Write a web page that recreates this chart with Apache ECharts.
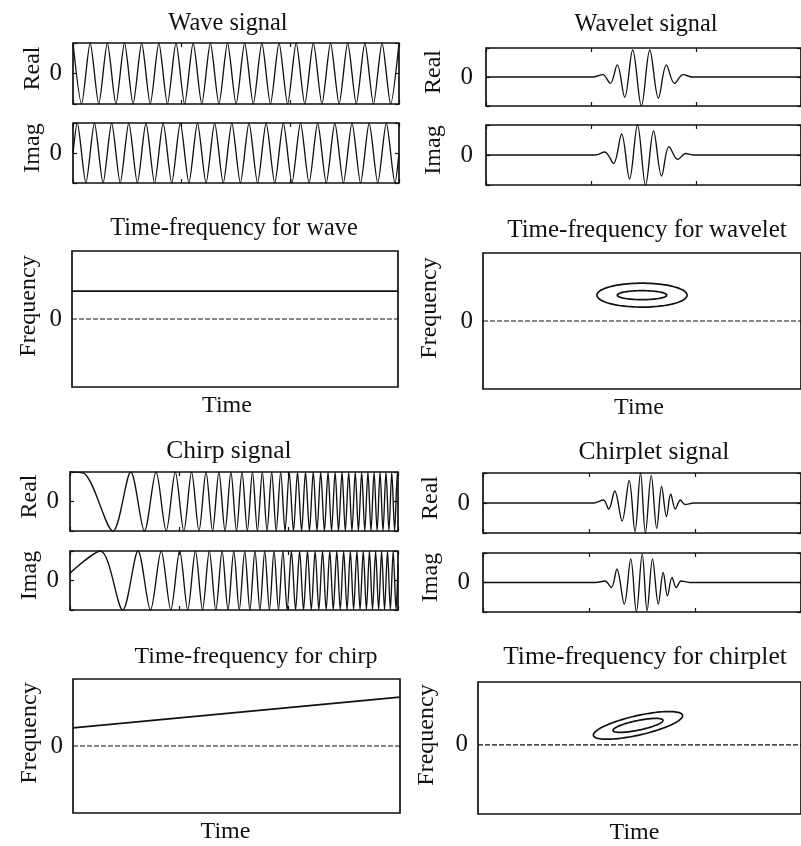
<!DOCTYPE html>
<html><head><meta charset="utf-8">
<script src="https://cdn.jsdelivr.net/npm/echarts@6/dist/echarts.min.js"></script>
<style>html,body{margin:0;padding:0;background:#fff}#c{width:801px;height:846px}</style>
</head><body><div id="c"></div>
<script>
// ---------- DATA (time axis 0..300, amplitude -1..1, frequency about -1..1) ----------
const timeTicks = [0, 100, 200, 300];

// Wave signal: extrema of the real / imaginary parts
const waveReT = [0,7.9,15.8,23.7,31.6,39.5,47.4,55.3,63.2,71.1,79,86.9,94.8,102.7,110.6,118.5,126.4,134.3,142.2,150.1,158,165.9,173.8,181.7,189.6,197.5,205.4,213.3,221.2,229.1,237,244.9,252.8,260.7,268.6,276.5,284.4,292.3,300];
const waveReV = [1,-1,1,-1,1,-1,1,-1,1,-1,1,-1,1,-1,1,-1,1,-1,1,-1,1,-1,1,-1,1,-1,1,-1,1,-1,1,-1,1,-1,1,-1,1,-1,1];
const waveImT = [0,3.95,11.85,19.75,27.65,35.55,43.45,51.35,59.25,67.15,75.05,82.95,90.85,98.75,106.65,114.55,122.45,130.35,138.25,146.15,154.05,161.95,169.85,177.75,185.65,193.55,201.45,209.35,217.25,225.15,233.05,240.95,248.85,256.75,264.65,272.55,280.45,288.35,296.25,300];
const waveImV = [0,1,-1,1,-1,1,-1,1,-1,1,-1,1,-1,1,-1,1,-1,1,-1,1,-1,1,-1,1,-1,1,-1,1,-1,1,-1,1,-1,1,-1,1,-1,1,-1,0];

// Wavelet signal
const waveletReT = [0,101.5,111.3,118.3,125.0,132.1,139.7,148.0,156.0,164.2,171.8,179.5,187.8,196.5,300];
const waveletReV = [0,0,0.08,-0.22,0.42,-0.7,0.93,-1,0.93,-0.73,0.42,-0.22,0.08,0,0];
const waveletImT = [0,104,113.1,121.4,129.1,136.7,144.3,152.0,159.6,167.2,174.3,182.6,190.2,197,300];
const waveletImV = [0,0,0.1,-0.28,0.7,-0.8,1,-1,0.8,-0.7,0.28,-0.15,0.05,0,0];

// Chirp signal: extrema positions (plus early shape points)
const chirpReT = [0,13,39.3,55.6,68.1,78.7,88.0,96.3,104.1,111.2,118.0,124.4,130.4,136.2,141.8,147.2,152.3,157.3,162.2,166.9,171.4,175.9,180.2,184.5,188.6,192.7,196.7,200.5,204.4,208.1,211.8,215.4,219.0,222.5,225.9,229.3,232.7,236.0,239.2,242.5,245.6,248.8,251.8,254.9,257.9,260.9,263.8,266.8,269.6,272.5,275.3,278.1,280.9,283.6,286.3,289.0,291.7,294.3,296.9,299.5,300];
const chirpReV = [1,0.95,-1,1,-1,1,-1,1,-1,1,-1,1,-1,1,-1,1,-1,1,-1,1,-1,1,-1,1,-1,1,-1,1,-1,1,-1,1,-1,1,-1,1,-1,1,-1,1,-1,1,-1,1,-1,1,-1,1,-1,1,-1,1,-1,1,-1,1,-1,1,-1,1,0.84];
const chirpImT = [0,27.8,48.2,62.2,73.6,83.4,92.2,100.3,107.7,114.7,121.2,127.4,133.4,139.1,144.5,149.8,154.8,159.8,164.5,169.2,173.7,178.1,182.4,186.6,190.7,194.7,198.6,202.5,206.3,210.0,213.6,217.2,220.7,224.2,227.6,231.0,234.3,237.6,240.8,244.0,247.2,250.3,253.4,256.4,259.4,262.4,265.3,268.2,271.1,273.9,276.7,279.5,282.3,285.0,287.7,290.4,293.0,295.6,298.2,300];
const chirpImV = [0.25,1,-1,1,-1,1,-1,1,-1,1,-1,1,-1,1,-1,1,-1,1,-1,1,-1,1,-1,1,-1,1,-1,1,-1,1,-1,1,-1,1,-1,1,-1,1,-1,1,-1,1,-1,1,-1,1,-1,1,-1,1,-1,1,-1,1,-1,1,-1,1,-1,0.54];

// Chirplet signal
const chirpletReT = [0,104.3,113.5,118.6,124.3,131.2,137.9,143.4,148.6,153.2,158.7,163.9,168.5,173.1,177.1,181.4,186.2,190.5,199,300];
const chirpletReV = [0,0,0.1,-0.2,0.4,-0.6,0.75,-0.95,1,-1,0.92,-0.85,0.55,-0.45,0.3,-0.2,0.1,-0.05,0,0];
const chirpletImT = [0,106,115.0,121.1,126.3,133.3,139.4,144.7,150.2,154.8,159.9,165.4,170.0,174.0,178.3,182.3,186.9,195,300];
const chirpletImV = [0,0,0.05,-0.17,0.45,-0.73,0.8,-1,0.96,-0.96,0.8,-0.73,0.34,-0.45,0.17,-0.17,0.05,0,0];

// Time-frequency ridges: [time, frequency]
const tfWaveLine = [[0, 0.41], [300, 0.41]];
const tfChirpLine = [[0, 0.27], [300, 0.73]];
const zeroLine = [[0, 0], [300, 0]];
// Ellipse contours: [centre time, centre freq, time half-width, freq half-height, chirp slope (freq per time)]
const tfWaveletEllipses = [[150, 0.38, 42.5, 0.176, 0], [150, 0.38, 23.3, 0.066, 0]];
const tfChirpletEllipses = [[148.6, 0.31, 41.4, 0.158, 0.0037], [148.6, 0.31, 23.2, 0.078, 0.0034]];

// ---------- CHART ----------
const FONT = "'Liberation Serif','Times New Roman',serif";
const INK = '#111';
const grid = [], xAxis = [], yAxis = [], series = [], graphic = [];
const zip = (t, v) => t.map((x, i) => [x, v[i]]);

function addGrid(box) {
  grid.push({left: box[0], top: box[1], width: box[2], height: box[3], show: true,
    borderColor: INK, borderWidth: 1.7, backgroundColor: 'transparent'});
  return grid.length - 1;
}
function tickStyle(show) {
  return {show: show, inside: true, length: 4, lineStyle: {color: INK, width: 1.2}};
}
function signalPanel(box, name, nameGap, labelMargin, t, v, smooth) {
  const gi = addGrid(box);
  const xi = xAxis.length;
  ['bottom', 'top'].forEach(p => xAxis.push({type: 'value', gridIndex: gi, position: p, min: 0, max: 300, interval: 100,
    axisLine: {show: false, onZero: false}, axisTick: tickStyle(true), axisLabel: {show: false}, splitLine: {show: false}}));
  const yi = yAxis.length;
  yAxis.push({type: 'value', gridIndex: gi, position: 'left', min: -1, max: 1, interval: 1,
    axisLine: {show: false, onZero: false}, axisTick: tickStyle(true), splitLine: {show: false},
    axisLabel: {margin: labelMargin, fontFamily: FONT, fontSize: 25, color: INK, formatter: x => x === 0 ? '0' : ''},
    name: name, nameLocation: 'middle', nameRotate: 90, nameGap: nameGap,
    nameTextStyle: {fontFamily: FONT, fontSize: 24, color: INK, padding: [0, 0, 0, 10]}});
  yAxis.push({type: 'value', gridIndex: gi, position: 'right', min: -1, max: 1, interval: 1,
    axisLine: {show: false, onZero: false}, axisTick: tickStyle(true), splitLine: {show: false}, axisLabel: {show: false}});
  series.push({type: 'line', xAxisIndex: xi, yAxisIndex: yi, data: zip(t, v), smooth: smooth,
    symbol: 'none', lineStyle: {color: INK, width: 1.35}, animation: false, silent: true});
}
function tfPanel(box, yMin, nameGap, timeShift) {
  const gi = addGrid(box);
  const xi = xAxis.length;
  xAxis.push({type: 'value', gridIndex: gi, position: 'bottom', min: 0, max: 300, interval: 100,
    axisLine: {show: false, onZero: false}, axisTick: {show: false}, axisLabel: {show: false}, splitLine: {show: false},
    name: 'Time', nameLocation: 'middle', nameGap: 7,
    nameTextStyle: {fontFamily: FONT, fontSize: 24, color: INK, verticalAlign: 'top', padding: [0, 2 * timeShift, 0, 0]}});
  const yi = yAxis.length;
  yAxis.push({type: 'value', gridIndex: gi, position: 'left', min: yMin, max: 1,
    axisLine: {show: false, onZero: false}, axisTick: {show: false}, splitLine: {show: false},
    axisLabel: {margin: 10, fontFamily: FONT, fontSize: 25, color: INK, customValues: [0], formatter: x => x === 0 ? '0' : ''},
    name: 'Frequency', nameLocation: 'middle', nameRotate: 90, nameGap: nameGap,
    nameTextStyle: {fontFamily: FONT, fontSize: 24, color: INK, padding: [0, 0, 0, 26]}});
  series.push({type: 'line', xAxisIndex: xi, yAxisIndex: yi, data: zeroLine, symbol: 'none',
    lineStyle: {color: INK, width: 1.1, type: [5, 2]}, animation: false, silent: true});
  return [xi, yi];
}
function ridge(ax, data) {
  series.push({type: 'line', xAxisIndex: ax[0], yAxisIndex: ax[1], data: data, symbol: 'none',
    lineStyle: {color: INK, width: 1.6}, animation: false, silent: true});
}
// contour of a (possibly sheared) ellipse, projected through the axes of its grid
function ellipses(ax, data) {
  series.push({type: 'custom', xAxisIndex: ax[0], yAxisIndex: ax[1], data: data, animation: false, silent: true,
    renderItem: (params, api) => {
      const t0 = api.value(0), f0 = api.value(1), a = api.value(2), b = api.value(3), c = api.value(4);
      const pts = [];
      for (let i = 0; i < 96; i++) {
        const s = i / 96 * 2 * Math.PI;
        const dt = a * Math.cos(s);
        pts.push(api.coord([t0 + dt, f0 + c * dt + b * Math.sin(s)]));
      }
      return {type: 'polygon', shape: {points: pts}, style: {fill: 'none', stroke: INK, lineWidth: 1.7}};
    }});
}
function title(text, x, y, size) {
  graphic.push({type: 'text', x: x, y: y, silent: true,
    style: {text: text, fontFamily: FONT, fontSize: size, fill: INK, align: 'center', verticalAlign: 'middle'}});
}

// left column
signalPanel([73, 43, 326, 61], 'Real', 28, 11, waveReT, waveReV, 0.25);
signalPanel([73, 123, 326, 60], 'Imag', 28, 11, waveImT, waveImV, 0.25);
const tfW = tfPanel([72, 251, 326, 136], -1, 31, 8);
ridge(tfW, tfWaveLine);
signalPanel([70, 472, 328, 59], 'Real', 28, 11, chirpReT, chirpReV, 0.3);
signalPanel([70, 551, 328, 59], 'Imag', 28, 11, chirpImT, chirpImV, 0.3);
const tfC = tfPanel([73, 679, 327, 134], -1, 31, 11);
ridge(tfC, tfChirpLine);
// right column (extends past the right edge)
signalPanel([486, 48, 327, 58], 'Real', 40, 13, waveletReT, waveletReV, 0.35);
signalPanel([486, 125, 327, 60], 'Imag', 40, 13, waveletImT, waveletImV, 0.35);
const tfWl = tfPanel([483, 253, 328, 136], -1, 41, 3);
ellipses(tfWl, tfWaveletEllipses);
signalPanel([483, 473, 327, 60], 'Real', 40, 13, chirpletReT, chirpletReV, 0.35);
signalPanel([483, 553, 327, 59], 'Imag', 40, 13, chirpletImT, chirpletImV, 0.35);
const tfCl = tfPanel([478, 682, 330, 135], -1.1, 39, 5);
ellipses(tfCl, tfChirpletEllipses);

title('Wave signal', 228, 24, 24.4);
title('Wavelet signal', 646, 25, 24.3);
title('Time-frequency for wave', 234, 229, 24.3);
title('Time-frequency for wavelet', 647, 230, 25);
title('Chirp signal', 229, 451, 25.5);
title('Chirplet signal', 654, 452, 25.5);
title('Time-frequency for chirp', 256, 657, 24);
title('Time-frequency for chirplet', 645, 657, 25.5);

const chart = echarts.init(document.getElementById('c'), null, {renderer: 'canvas'});
chart.setOption({animation: false, backgroundColor: '#fff', grid, xAxis, yAxis, series, graphic});
</script></body></html>
